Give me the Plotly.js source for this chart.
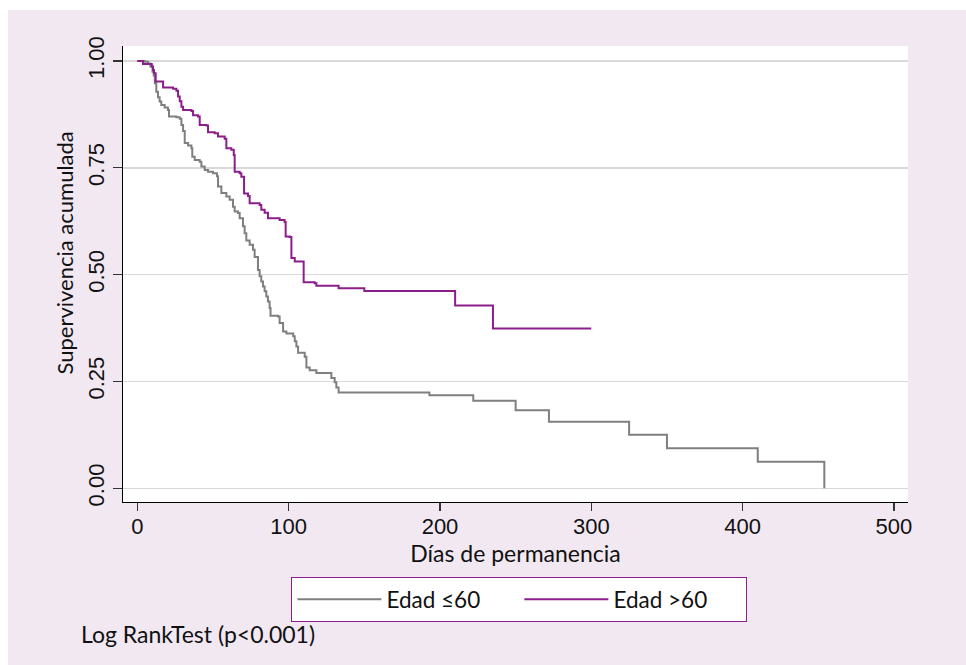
<!DOCTYPE html>
<html>
<head>
<meta charset="utf-8">
<script src="https://cdn.plot.ly/plotly-3.0.1.min.js"></script>
<style>
  html, body { margin: 0; padding: 0; background: #ffffff; }
  #chart { position: absolute; left: 8px; top: 10px; width: 958px; height: 655px; }
</style>
</head>
<body>
<div id="chart"></div>
<script>
// Kaplan-Meier estimates
const grayTimes = [0, 5, 7, 8.6, 10, 10.8, 11.5, 12.5, 13.6, 14.7, 15.8, 18, 20.2, 20.9, 25.8, 28, 29.1, 30.2, 31.3, 33.5,
  35.7, 36.3, 37.9, 41.2, 42.3, 44.5, 46.7, 50, 52.6, 53.3, 55.5, 58.8, 61, 63.2, 64.3, 66.5, 67.6, 69.8, 70.9, 72,
  74.2, 76.4, 77.5, 79.7, 80.8, 81.9, 83, 84.1, 85.2, 86.3, 87.4, 88, 93, 94, 96.3, 98.5, 103, 104, 105.1, 106.2,
  110.6, 111.7, 113.9, 118.3, 128.2, 130.4, 131.5, 133, 193, 222, 250, 272, 325, 350, 410, 454];
const graySurv = [1.0, 0.998, 0.994, 0.987, 0.975, 0.966, 0.948, 0.928, 0.915, 0.905, 0.897, 0.891, 0.885, 0.870, 0.868, 0.865, 0.850, 0.836, 0.808, 0.802,
  0.796, 0.776, 0.768, 0.764, 0.753, 0.745, 0.741, 0.737, 0.730, 0.706, 0.691, 0.683, 0.675, 0.659, 0.648, 0.644, 0.632, 0.613, 0.597, 0.580,
  0.570, 0.558, 0.541, 0.511, 0.496, 0.484, 0.472, 0.461, 0.449, 0.437, 0.422, 0.404, 0.402, 0.387, 0.367, 0.362, 0.356, 0.344, 0.332, 0.317,
  0.308, 0.283, 0.276, 0.270, 0.258, 0.248, 0.236, 0.2245, 0.2175, 0.205, 0.1824, 0.156, 0.1256, 0.0936, 0.0624, 0];

const purpleTimes = [0, 3.7, 9.5, 10.3, 11, 12.1, 17, 23.6, 25.8, 26.9, 28, 29.1, 30.2, 35.7, 36.8, 40.1, 41.2, 45.6, 46.7, 51.1,
  53.3, 57.7, 58.8, 62.1, 63.7, 64.3, 67.6, 68.7, 70.5, 73.1, 74.2, 80.8, 81.9, 84.1, 86.3, 94, 97.3, 98, 100.7, 101.8,
  104, 109.9, 117.2, 118.3, 133, 150, 210, 235, 300];
const purpleSurv = [1.0, 0.993, 0.987, 0.979, 0.971, 0.952, 0.938, 0.935, 0.930, 0.917, 0.906, 0.893, 0.885, 0.883, 0.873, 0.870, 0.850, 0.849, 0.833, 0.831,
  0.823, 0.818, 0.796, 0.792, 0.780, 0.741, 0.737, 0.729, 0.690, 0.684, 0.667, 0.663, 0.652, 0.645, 0.632, 0.628, 0.623, 0.589, 0.588, 0.539,
  0.531, 0.482, 0.480, 0.474, 0.468, 0.4615, 0.428, 0.374, 0.374];

const seriesNames = ['Edad \u226460', 'Edad >60'];
const xTicks = [0, 100, 200, 300, 400, 500];
const yTicks = [0, 0.25, 0.5, 0.75, 1.0];
const yTickLabels = ['0.00', '0.25', '0.50', '0.75', '1.00'];

const grayColor = '#7f7f7f';
const purpleColor = '#8b1e8b';
const bgPink = '#f2e8f2';
const txtFont = 'Lato, "Open Sans", sans-serif';
const tickFont = '"Liberation Sans", Arial, sans-serif';

const traces = [
  { x: grayTimes, y: graySurv, name: seriesNames[0], type: 'scatter', mode: 'lines',
    line: { shape: 'hv', color: grayColor, width: 2 } },
  { x: purpleTimes, y: purpleSurv, name: seriesNames[1], type: 'scatter', mode: 'lines',
    line: { shape: 'hv', color: purpleColor, width: 2 } }
];

const layout = {
  width: 958, height: 655,
  paper_bgcolor: bgPink,
  plot_bgcolor: '#ffffff',
  margin: { l: 115.3, r: 57.7, t: 36, b: 162.7, pad: 0 },
  showlegend: true,
  hovermode: false,
  xaxis: {
    range: [-9.5, 509.3], tickvals: xTicks, ticktext: xTicks.map(String),
    showgrid: false, zeroline: false,
    showline: true, linecolor: '#000000', linewidth: 1.3,
    ticks: 'outside', ticklen: 8, tickwidth: 1.3, tickcolor: '#333333',
    ticklabelstandoff: -4,
    tickfont: { family: tickFont, size: 22, color: '#111111' },
    title: { text: 'Días de permanencia', font: { family: txtFont, size: 23, color: '#111111' }, standoff: 0 }
  },
  yaxis: {
    range: [-0.032, 1.035], tickvals: yTicks, ticktext: yTickLabels, tickangle: -90,
    showgrid: true, gridcolor: '#d9d9d9', gridwidth: 1.4, zeroline: false,
    showline: true, linecolor: '#000000', linewidth: 1.3,
    ticks: 'outside', ticklen: 9, tickwidth: 1.3, tickcolor: '#333333',
    tickfont: { family: tickFont, size: 22, color: '#111111' }
  },
  legend: {
    orientation: 'h', x: 0.2145, y: -0.165, xanchor: 'left', yanchor: 'top',
    bgcolor: '#ffffff', bordercolor: purpleColor, borderwidth: 1,
    font: { family: txtFont, size: 22.5, color: '#111111' },
    itemwidth: 84, entrywidth: 128, entrywidthmode: 'pixels'
  },
  annotations: [
    { text: 'Supervivencia acumulada', xref: 'paper', yref: 'paper', x: -0.0743, y: 0.5464,
      xanchor: 'center', yanchor: 'middle', textangle: -90, showarrow: false,
      font: { family: txtFont, size: 22, color: '#111111' } },
    { text: 'Log RankTest (p<0.001)', xref: 'paper', yref: 'paper', x: -0.056, y: -0.2886,
      xanchor: 'left', yanchor: 'middle', showarrow: false,
      font: { family: txtFont, size: 23, color: '#111111' } }
  ]
};

Plotly.newPlot('chart', traces, layout, { displayModeBar: false, staticPlot: true });
</script>
</body>
</html>
